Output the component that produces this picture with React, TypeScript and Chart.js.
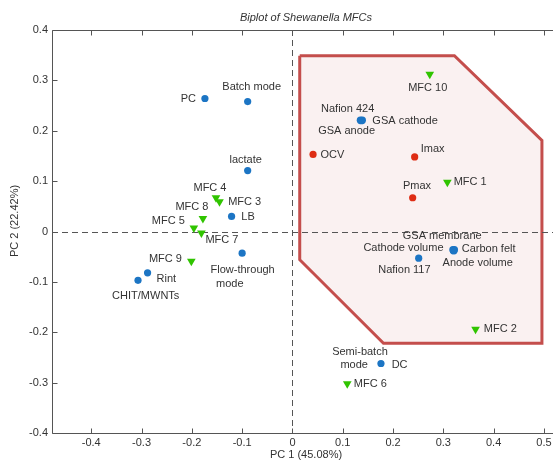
import React, { useEffect, useRef } from 'react';
import { Chart, registerables } from 'chart.js';

Chart.register(...registerables);

// ---------- data ----------
const titleText = 'Biplot of Shewanella MFCs';
const xTitle = 'PC 1 (45.08%)';
const yTitle = 'PC 2 (22.42%)';

const xTicks = [-0.4, -0.3, -0.2, -0.1, 0, 0.1, 0.2, 0.3, 0.4, 0.5];
const yTicks = [-0.4, -0.3, -0.2, -0.1, 0, 0.1, 0.2, 0.3, 0.4];
const xMin = -0.478;
const xMax = 0.518;
const yMin = -0.4;
const yMax = 0.4;

// variables (blue circles)
const blueNames = ['PC', 'Batch mode', 'lactate', 'LB', 'Flow-through mode', 'Rint', 'CHIT/MWNTs', 'Nafion 424', 'GSA cathode', 'GSA anode', 'Nafion 117', 'GSA membrane', 'Cathode volume', 'Carbon felt', 'Anode volume', 'DC'];
const blueX = [-0.174, -0.089, -0.089, -0.121, -0.100, -0.288, -0.307, 0.135, 0.139, 0.137, 0.251, 0.319, 0.321, 0.322, 0.320, 0.176];
const blueY = [0.264, 0.258, 0.121, 0.030, -0.043, -0.082, -0.097, 0.221, 0.221, 0.220, -0.053, -0.036, -0.038, -0.036, -0.038, -0.262];

// performance outputs (red circles)
const redNames = ['OCV', 'Imax', 'Pmax'];
const redX = [0.041, 0.243, 0.239];
const redY = [0.153, 0.148, 0.067];

// MFC observations (green triangles)
const greenNames = ['MFC 1', 'MFC 2', 'MFC 3', 'MFC 4', 'MFC 5', 'MFC 6', 'MFC 7', 'MFC 8', 'MFC 9', 'MFC 10'];
const greenX = [0.308, 0.364, -0.145, -0.152, -0.196, 0.109, -0.181, -0.178, -0.201, 0.273];
const greenY = [0.098, -0.194, 0.059, 0.067, 0.007, -0.302, -0.003, 0.026, -0.059, 0.312];

// highlighted region outline
const regionX = [0.0145, 0.322, 0.496, 0.496, 0.181, 0.0145, 0.0145];
const regionY = [0.349, 0.349, 0.181, -0.222, -0.222, -0.056, 0.349];

// ---------- label placement (pixel offsets from the point) ----------
type LabelLine = [string, number, number, CanvasTextAlign];
const labelLayout: Record<string, LabelLine[]> = {
  'PC': [['PC', -9, 0, 'right']],
  'Batch mode': [['Batch mode', 4, -14.6, 'center']],
  'lactate': [['lactate', -2, -11, 'center']],
  'LB': [['LB', 9.7, 0.7, 'left']],
  'Flow-through mode': [['Flow-through', 0.5, 17.3, 'center'], ['mode', -12.4, 30.6, 'center']],
  'Rint': [['Rint', 9, 6, 'left']],
  'CHIT/MWNTs': [['CHIT/MWNTs', 7.7, 15.4, 'center']],
  'Nafion 424': [['Nafion 424', -12.7, -11.7, 'center']],
  'GSA cathode': [['GSA cathode', 10, 1, 'left']],
  'GSA anode': [['GSA anode', -14.7, 10, 'center']],
  'Nafion 117': [['Nafion 117', -14.3, 11.6, 'center']],
  'GSA membrane': [['GSA membrane', -10.7, -13.3, 'center']],
  'Cathode volume': [['Cathode volume', -10.4, -2.3, 'right']],
  'Carbon felt': [['Carbon felt', 7.3, -0.7, 'left']],
  'Anode volume': [['Anode volume', 24.3, 12.7, 'center']],
  'DC': [['Semi-batch', -21, -11.6, 'center'], ['mode', -26.8, 1.7, 'center'], ['DC', 10.7, 1, 'left']],
  'OCV': [['OCV', 7.4, 0.7, 'left']],
  'Imax': [['Imax', 6, -8.4, 'left']],
  'Pmax': [['Pmax', 4.3, -11.3, 'center']],
  'MFC 1': [['MFC 1', 6.3, -0.3, 'left']],
  'MFC 2': [['MFC 2', 8.3, 0, 'left']],
  'MFC 3': [['MFC 3', 8.7, 0, 'left']],
  'MFC 4': [['MFC 4', -6, -10, 'center']],
  'MFC 5': [['MFC 5', -9, -6.7, 'right']],
  'MFC 6': [['MFC 6', 6.6, 0.7, 'left']],
  'MFC 7': [['MFC 7', 4, 7.3, 'left']],
  'MFC 8': [['MFC 8', -11, -11.6, 'center']],
  'MFC 9': [['MFC 9', -9.4, -2.7, 'right']],
  'MFC 10': [['MFC 10', -2, 13.7, 'center']],
};

const FONT = '"Liberation Sans", Arial, sans-serif';
const BLUE = 'rgb(28,117,196)';
const RED = 'rgb(222,45,20)';
const GREEN = 'rgb(48,196,0)';
const AXIS = '#555555';
const TEXT = '#333333';

const fmt = (v: number) => {
  const r = Math.round(v * 10) / 10;
  return r === 0 ? '0' : String(r);
};

const pts = (xs: number[], ys: number[]) => xs.map((x, i) => ({ x, y: ys[i] }));

const overlay = {
  id: 'overlay',
  afterDatasetDraw(chart: any, args: any) {
    if (args.index !== 0) return;
    const { ctx, chartArea: a, scales } = chart;
    const px = Math.round(scales.x.getPixelForValue(0)) + 0.5;
    const py = Math.round(scales.y.getPixelForValue(0)) + 0.5;
    ctx.save();
    ctx.strokeStyle = AXIS;
    ctx.lineWidth = 1;
    ctx.setLineDash([6, 4]);
    ctx.beginPath();
    ctx.moveTo(px, a.top);
    ctx.lineTo(px, a.bottom);
    ctx.moveTo(a.left, py);
    ctx.lineTo(a.right, py);
    ctx.stroke();
    ctx.restore();
  },
  afterDatasetsDraw(chart: any) {
    const { ctx, scales } = chart;
    ctx.save();
    ctx.font = `11px ${FONT}`;
    ctx.fillStyle = TEXT;
    ctx.textBaseline = 'middle';
    const groups: [string[], number[], number[]][] = [
      [blueNames, blueX, blueY],
      [redNames, redX, redY],
      [greenNames, greenX, greenY],
    ];
    groups.forEach(([names, xs, ys]) => {
      names.forEach((n, i) => {
        const lines = labelLayout[n];
        if (!lines) return;
        const bx = scales.x.getPixelForValue(xs[i]);
        const by = scales.y.getPixelForValue(ys[i]);
        lines.forEach(([t, dx, dy, al]) => {
          ctx.textAlign = al;
          ctx.fillText(t, bx + dx, by + dy);
        });
      });
    });
    ctx.restore();
  },
  afterDraw(chart: any) {
    const { ctx, chartArea: a, scales } = chart;
    ctx.save();
    ctx.strokeStyle = AXIS;
    ctx.lineWidth = 1;
    const L = Math.round(a.left) + 0.5;
    const T = Math.round(a.top) + 0.5;
    const B = Math.round(a.bottom) + 0.5;
    const R = a.right + 5;
    ctx.beginPath();
    ctx.moveTo(R, T);
    ctx.lineTo(L, T);
    ctx.lineTo(L, B);
    ctx.lineTo(R, B);
    ctx.stroke();
    const tl = 5;
    ctx.beginPath();
    xTicks.forEach((v) => {
      const p = Math.round(scales.x.getPixelForValue(v)) + 0.5;
      ctx.moveTo(p, B);
      ctx.lineTo(p, B - tl);
      ctx.moveTo(p, T);
      ctx.lineTo(p, T + tl);
    });
    yTicks.forEach((v) => {
      const p = Math.round(scales.y.getPixelForValue(v)) + 0.5;
      ctx.moveTo(L, p);
      ctx.lineTo(L + tl, p);
    });
    ctx.stroke();

    ctx.fillStyle = TEXT;
    ctx.textAlign = 'center';
    ctx.textBaseline = 'middle';
    ctx.font = `italic 11px ${FONT}`;
    ctx.fillText(titleText, 306, 18);
    ctx.font = `11px ${FONT}`;
    ctx.fillText(xTitle, 306, 455);
    ctx.translate(15, 221);
    ctx.rotate(-Math.PI / 2);
    ctx.fillText(yTitle, 0, 0);
    ctx.restore();
  },
};

export default function App() {
  const ref = useRef<HTMLCanvasElement | null>(null);

  useEffect(() => {
    if (!ref.current) return;
    const chart = new Chart(ref.current, {
      type: 'scatter',
      data: {
        datasets: [
          {
            label: 'region',
            data: pts(regionX, regionY),
            showLine: true,
            fill: 'shape',
            backgroundColor: 'rgba(250,241,241,1)',
            borderColor: 'rgb(196,78,76)',
            borderWidth: 3,
            pointRadius: 0,
            tension: 0,
            order: 10,
          } as any,
          {
            label: 'variables',
            data: pts(blueX, blueY),
            pointStyle: 'circle',
            pointRadius: 3.6,
            backgroundColor: BLUE,
            borderColor: BLUE,
            borderWidth: 0,
            order: 2,
          },
          {
            label: 'outputs',
            data: pts(redX, redY),
            pointStyle: 'circle',
            pointRadius: 3.6,
            backgroundColor: RED,
            borderColor: RED,
            borderWidth: 0,
            order: 1,
          },
          {
            label: 'MFCs',
            data: pts(greenX, greenY),
            pointStyle: 'triangle',
            rotation: 180,
            pointRadius: 5,
            backgroundColor: GREEN,
            borderColor: GREEN,
            borderWidth: 0,
            order: 0,
          } as any,
        ],
      },
      options: {
        animation: false,
        responsive: false,
        maintainAspectRatio: false,
        layout: { autoPadding: false, padding: { top: 30, right: 0, left: 0, bottom: 0 } },
        plugins: {
          legend: { display: false },
          title: { display: false },
          tooltip: { enabled: false },
        },
        scales: {
          x: {
            type: 'linear',
            min: xMin,
            max: xMax,
            afterBuildTicks: (s: any) => {
              s.ticks = xTicks.map((v) => ({ value: v }));
            },
            afterFit: (s: any) => {
              s.height = 29;
              s.paddingLeft = 0;
              s.paddingRight = 0;
            },
            grid: { display: false, drawTicks: false },
            border: { display: false },
            ticks: {
              padding: 3,
              color: TEXT,
              font: { family: FONT, size: 11 },
              maxRotation: 0,
              autoSkip: false,
              callback: (v: any) => fmt(Number(v)),
            },
          },
          y: {
            type: 'linear',
            min: yMin,
            max: yMax,
            afterBuildTicks: (s: any) => {
              s.ticks = yTicks.map((v) => ({ value: v }));
            },
            afterFit: (s: any) => {
              s.width = 52;
              s.paddingTop = 0;
              s.paddingBottom = 0;
            },
            grid: { display: false, drawTicks: false },
            border: { display: false },
            ticks: {
              padding: 4,
              color: TEXT,
              font: { family: FONT, size: 11 },
              autoSkip: false,
              callback: (v: any) => fmt(Number(v)),
            },
          },
        },
      },
      plugins: [overlay],
    });
    return () => chart.destroy();
  }, []);

  return (
    <div style={{ position: 'fixed', left: 0, top: 0, width: 553, height: 462, background: '#fff' }}>
      <canvas ref={ref} width={553} height={462} style={{ width: 553, height: 462 }} />
    </div>
  );
}
